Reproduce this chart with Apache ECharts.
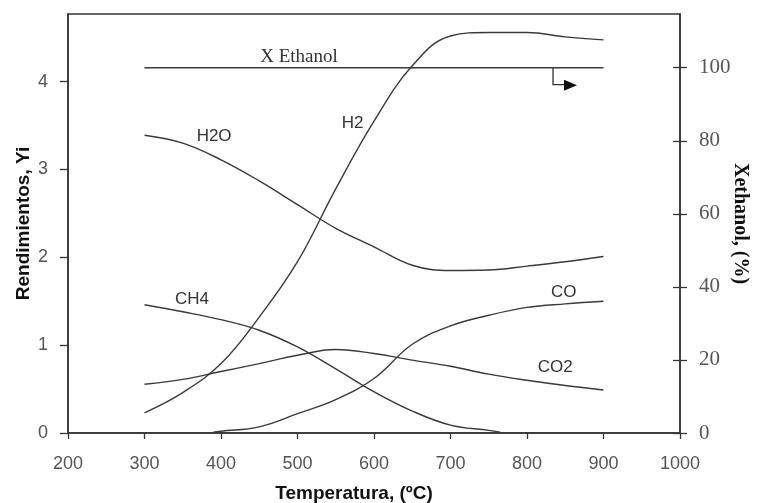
<!DOCTYPE html>
<html>
<head>
<meta charset="utf-8">
<script src="https://cdn.jsdelivr.net/npm/echarts@6/dist/echarts.min.js"></script>
<style>
  html, body { margin: 0; padding: 0; background: #fff; }
  #main { width: 758px; height: 503px; }
</style>
</head>
<body>
<div id="main"></div>
<script>
// temperaturas (ºC)
var temps = [300, 350, 400, 450, 500, 550, 600, 650, 700, 750, 800, 850, 900];
var h2o = [3.39, 3.30, 3.11, 2.87, 2.60, 2.33, 2.12, 1.91, 1.85, 1.855, 1.90, 1.95, 2.01];
var h2 = [0.23, 0.46, 0.79, 1.32, 1.95, 2.78, 3.55, 4.18, 4.52, 4.56, 4.56, 4.51, 4.475];
var co2 = [0.555, 0.61, 0.70, 0.79, 0.885, 0.95, 0.905, 0.83, 0.76, 0.67, 0.60, 0.54, 0.49];

var ch4Temps = [300, 350, 400, 450, 500, 550, 600, 650, 700, 750, 765];
var ch4 = [1.46, 1.38, 1.29, 1.17, 0.98, 0.73, 0.47, 0.25, 0.09, 0.03, 0.01];

var coTemps = [390, 400, 450, 500, 550, 600, 650, 700, 750, 800, 850, 900];
var co = [0.01, 0.02, 0.07, 0.22, 0.38, 0.62, 1.01, 1.22, 1.34, 1.43, 1.47, 1.50];

var ethTemps = [300, 900];
var ethanol = [100, 100];

var leftTicks = [0, 1, 2, 3, 4];
var rightTicks = [0, 20, 40, 60, 80, 100];

// etiquetas de las curvas: [texto, T, valor, eje]
var curveLabels = [
    ['X Ethanol', 502, 102.9, 1],
    ['H2O', 391, 3.38, 0],
    ['H2', 572, 3.53, 0],
    ['CH4', 362, 1.52, 0],
    ['CO', 848, 1.607, 0],
    ['CO2', 837, 0.752, 0]
];

function pairs(xs, ys) {
    return xs.map(function (x, i) { return [x, ys[i]]; });
}

var lineColor = '#3a3a3a';
function curve(name, xs, ys, axis) {
    return {
        name: name,
        type: 'line',
        yAxisIndex: axis || 0,
        smooth: 0.4,
        symbol: 'none',
        lineStyle: { color: lineColor, width: 1.4 },
        data: pairs(xs, ys)
    };
}

var myChart = echarts.init(document.getElementById('main'));
var option = {
    animation: false,
    backgroundColor: '#fff',
    grid: {
        left: 68, right: 78, top: 14, bottom: 70,
        outerBoundsMode: 'none',
        containLabel: false,
        show: true, borderColor: '#333', borderWidth: 1.5
    },
    xAxis: {
        type: 'value',
        min: 200, max: 1000, interval: 100,
        name: 'Temperatura, (ºC)',
        nameLocation: 'middle',
        nameGap: 51,
        nameMoveOverlap: false,
        nameTextStyle: {
            fontFamily: 'Liberation Sans', fontWeight: 'bold', fontSize: 19, color: '#111',
            padding: [0, 40, 0, 0]
        },
        axisLine: { lineStyle: { color: '#333', width: 1.5 } },
        axisTick: { length: 6, lineStyle: { color: '#333', width: 1.3 } },
        axisLabel: {
            margin: 22, fontFamily: 'Liberation Sans', fontSize: 18, color: '#555',
            formatter: function (v) { return String(v); }
        },
        splitLine: { show: false }
    },
    yAxis: [
        {
            type: 'value',
            min: 0, max: 4.77,
            name: 'Rendimientos, Yi',
            nameLocation: 'middle',
            nameGap: 35,
            nameMoveOverlap: false,
            nameTextStyle: { fontFamily: 'Liberation Sans', fontWeight: 'bold', fontSize: 19, color: '#111' },
            axisLine: { show: true, lineStyle: { color: '#333', width: 1.5 } },
            axisTick: { show: true, length: 8, customValues: leftTicks, lineStyle: { color: '#333', width: 1.3 } },
            axisLabel: { margin: 20, customValues: leftTicks, fontFamily: 'Liberation Sans', fontSize: 18, color: '#555' },
            splitLine: { show: false }
        },
        {
            type: 'value',
            position: 'right',
            min: 0, max: 114.7,
            name: 'Xethanol, (%)',
            nameLocation: 'middle',
            nameRotate: -90,
            nameGap: 50,
            nameMoveOverlap: false,
            nameTextStyle: { fontFamily: 'Liberation Serif', fontWeight: 'bold', fontSize: 20, color: '#111' },
            axisLine: { show: true, lineStyle: { color: '#333', width: 1.5 } },
            axisTick: { show: true, length: 7, customValues: rightTicks, lineStyle: { color: '#333', width: 1.3 } },
            axisLabel: { margin: 19, customValues: rightTicks, fontFamily: 'Liberation Serif', fontSize: 21, color: '#555' },
            splitLine: { show: false }
        },
        {
            // ticks hacia dentro en el eje derecho (forma de cruz)
            type: 'value',
            position: 'right',
            min: 0, max: 114.7,
            axisLine: { show: false },
            axisTick: { show: true, inside: true, length: 7, customValues: rightTicks, lineStyle: { color: '#333', width: 1.3 } },
            axisLabel: { show: false },
            splitLine: { show: false }
        }
    ],
    series: [
        curve('Ethanol', ethTemps, ethanol, 1),
        curve('H2O', temps, h2o),
        curve('H2', temps, h2),
        curve('CO2', temps, co2),
        curve('CH4', ch4Temps, ch4),
        curve('CO', coTemps, co)
    ]
};
myChart.setOption(option);

// textos de las curvas y flecha hacia el eje derecho
var graphics = curveLabels.map(function (l) {
    var p = myChart.convertToPixel({ xAxisIndex: 0, yAxisIndex: l[3] }, [l[1], l[2]]);
    var serif = l[3] === 1;
    return {
        type: 'text', x: p[0], y: p[1],
        style: {
            text: l[0], align: 'center', verticalAlign: 'middle',
            fontFamily: serif ? 'Liberation Serif' : 'Liberation Sans',
            fontSize: serif ? 19 : 17, fill: '#333'
        }
    };
});
var a = myChart.convertToPixel({ xAxisIndex: 0, yAxisIndex: 1 }, [834, 100]);
graphics.push({
    type: 'polyline',
    shape: { points: [[a[0], a[1]], [a[0], a[1] + 17], [a[0] + 12, a[1] + 17]] },
    style: { stroke: '#333', lineWidth: 1.3, fill: null }
});
graphics.push({
    type: 'polygon',
    shape: { points: [[a[0] + 11, a[1] + 12], [a[0] + 24, a[1] + 17.5], [a[0] + 11, a[1] + 23]] },
    style: { fill: '#111' }
});
myChart.setOption({ graphic: graphics });
</script>
</body>
</html>
